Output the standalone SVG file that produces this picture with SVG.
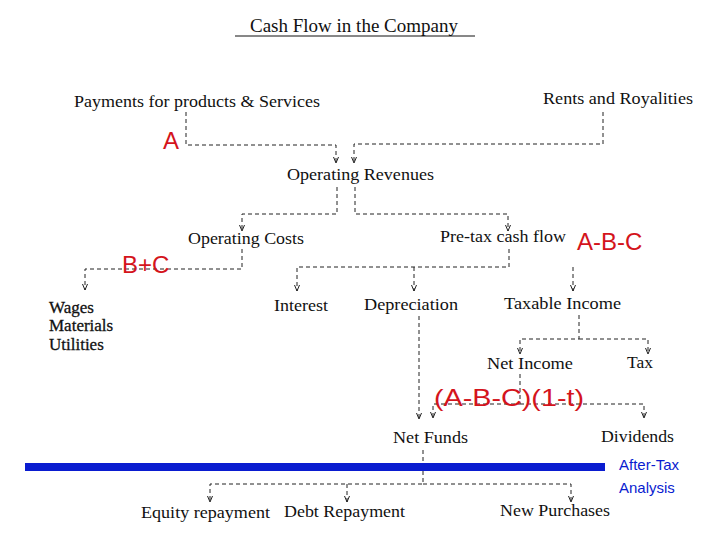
<svg xmlns="http://www.w3.org/2000/svg" width="720" height="540" viewBox="0 0 720 540">
<style>
.t{font-family:"Liberation Serif",serif;font-size:17.5px;fill:#111}
.b{font-size:17px;stroke:#111;stroke-width:0.3}
.r{font-family:"Liberation Sans",sans-serif;font-size:24px;fill:#d4141c}
.bl{font-family:"Liberation Sans",sans-serif;font-size:15px;fill:#0a1cd0}
.c path{fill:none;stroke:#222;stroke-width:1;stroke-dasharray:4 3}
</style>
<defs>
<marker id="v" markerWidth="8" markerHeight="8" refX="4" refY="7" orient="0" markerUnits="userSpaceOnUse">
<path d="M1.5,1 L4,7 L6.5,1" fill="none" stroke="#222" stroke-width="1"/>
</marker>
</defs>
<rect width="720" height="540" fill="#fff"/>
<g id="title"><text x="354" y="32" text-anchor="middle" class="t" style="font-size:19px">Cash Flow in the Company</text>
<line x1="235" y1="36" x2="475" y2="36" stroke="#111" stroke-width="1"/></g>
<g class="c">
<path d="M186,112 V145 H336 V163" marker-end="url(#v)"/>
<path d="M603,112 V144 H354 V163" marker-end="url(#v)"/>
<path d="M337,187 V214 H242 V231" marker-end="url(#v)"/>
<path d="M355,187 V214 H508 V231" marker-end="url(#v)"/>
<path d="M242,249 V269 H85 V290" marker-end="url(#v)"/>
<path d="M509,249 V267 H297 V291" marker-end="url(#v)"/>
<path d="M414,267 V291" marker-end="url(#v)"/>
<path d="M573,267 V291" marker-end="url(#v)"/>
<path d="M579,315 V339 H520 V354" marker-end="url(#v)"/>
<path d="M579,339 H648 V354" marker-end="url(#v)"/>
<path d="M419,316 V419" marker-end="url(#v)"/>
<path d="M520,374 V404 H433 V418" marker-end="url(#v)"/>
<path d="M520,404 H644 V418" marker-end="url(#v)"/>
<path d="M423,450 V484 H210 V502" marker-end="url(#v)"/>
<path d="M347,484 V502" marker-end="url(#v)"/>
<path d="M423,484 H571 V502" marker-end="url(#v)"/>
</g>
<g id="payments"><text x="74" y="107" class="t" textLength="246" lengthAdjust="spacingAndGlyphs">Payments for products &amp; Services</text></g>
<g id="rents"><text x="543" y="104" class="t" textLength="150" lengthAdjust="spacingAndGlyphs">Rents and Royalities</text></g>
<g id="oprev"><text x="287" y="180" class="t" textLength="147" lengthAdjust="spacingAndGlyphs">Operating Revenues</text></g>
<g id="opcost"><text x="188" y="244" class="t" textLength="116" lengthAdjust="spacingAndGlyphs">Operating Costs</text></g>
<g id="pretax"><text x="440" y="242" class="t" textLength="126" lengthAdjust="spacingAndGlyphs">Pre-tax cash flow</text></g>
<g id="wages"><text x="49" y="313" class="t b">Wages</text><text x="49" y="331" class="t b">Materials</text><text x="49" y="350" class="t b">Utilities</text></g>
<g id="interest"><text x="274" y="311" class="t" textLength="54" lengthAdjust="spacingAndGlyphs">Interest</text></g>
<g id="depr"><text x="364" y="310" class="t" textLength="94" lengthAdjust="spacingAndGlyphs">Depreciation</text></g>
<g id="taxable"><text x="504" y="309" class="t" textLength="117" lengthAdjust="spacingAndGlyphs">Taxable Income</text></g>
<g id="netincome"><text x="487" y="369" class="t" textLength="86" lengthAdjust="spacingAndGlyphs">Net Income</text></g>
<g id="tax"><text x="627" y="368" class="t">Tax</text></g>
<g id="netfunds"><text x="393" y="443" class="t" textLength="75" lengthAdjust="spacingAndGlyphs">Net Funds</text></g>
<g id="dividends"><text x="601" y="442" class="t" textLength="73" lengthAdjust="spacingAndGlyphs">Dividends</text></g>
<g id="equity"><text x="141" y="518" class="t" textLength="129" lengthAdjust="spacingAndGlyphs">Equity repayment</text></g>
<g id="debt"><text x="284" y="517" class="t" textLength="121" lengthAdjust="spacingAndGlyphs">Debt Repayment</text></g>
<g id="newp"><text x="500" y="516" class="t" textLength="110" lengthAdjust="spacingAndGlyphs">New Purchases</text></g>
<g id="labels">
<text x="163" y="149" class="r">A</text>
<text x="122" y="273" class="r">B+C</text>
<text x="577" y="250" class="r">A-B-C</text>
<text x="434" y="406" class="r" textLength="150" lengthAdjust="spacingAndGlyphs">(A-B-C)(1-t)</text>
</g>
<g id="aftertax">
<rect x="25" y="463" width="580" height="8" fill="#0a1cd0"/>
<text x="619" y="470" class="bl">After-Tax</text>
<text x="619" y="493" class="bl">Analysis</text>
</g>
</svg>
